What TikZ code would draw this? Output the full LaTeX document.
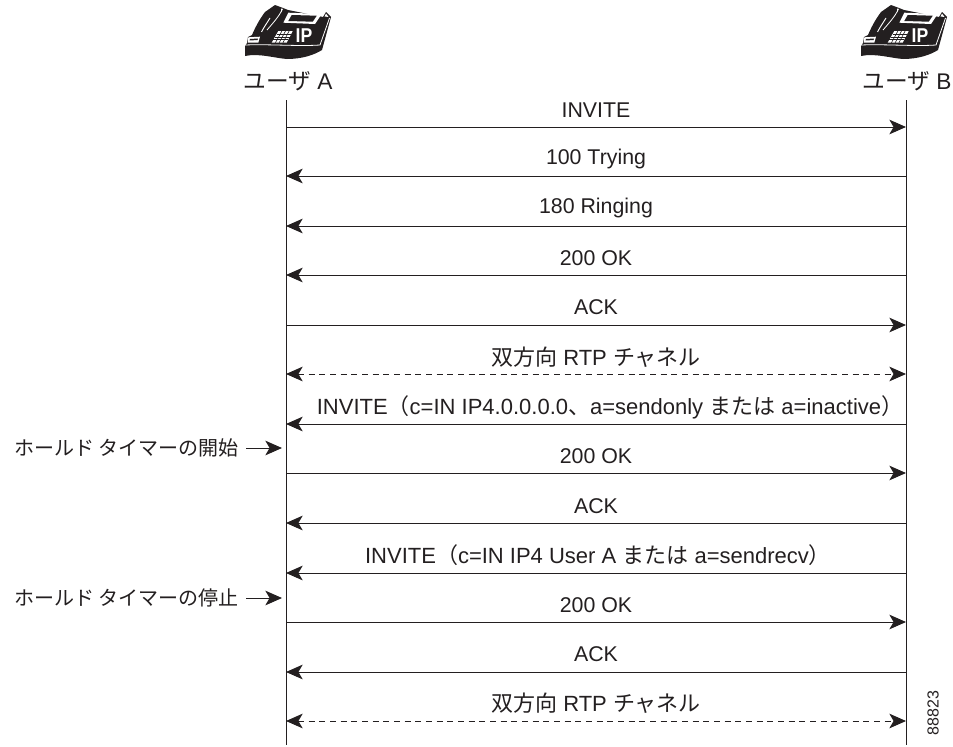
\documentclass[tikz,border=0pt]{standalone}
\usepackage{fontspec}
\setmainfont{Liberation Sans}
\newfontfamily\cjk{Noto Sans CJK JP}
\usetikzlibrary{arrows.meta}
\definecolor{ink}{RGB}{35,31,32}
\tikzset{
  x=0.75pt,y=-0.75pt,
  life/.style={draw=ink,line width=0.75pt},
  msg/.style={draw=ink,line width=0.75pt,-{Stealth[length=12.5pt,width=11pt,inset=3.2pt]}},
  rtp/.style={draw=ink,line width=0.75pt,dash pattern=on 4.5pt off 3.5pt,{Stealth[length=12.5pt,width=11pt,inset=3.2pt]}-{Stealth[length=12.5pt,width=11pt,inset=3.2pt]}},
  lbl/.style={inner sep=0pt,text=ink,font=\fontsize{16pt}{18pt}\selectfont},
  widelbl/.style={inner sep=0pt,text=ink,font=\fontsize{16.5pt}{18pt}\selectfont},
  userlbl/.style={inner sep=0pt,text=ink,font=\fontsize{17pt}{19pt}\selectfont},
  holdlbl/.style={inner sep=0pt,text=ink,anchor=west,font=\fontsize{15pt}{18pt}\selectfont},
  pics/phone/.style={code={
    \fill[ink] (1,46) -- (1,56) .. controls (15,53) and (30,58) .. (43,59) .. controls (58,59) and (70,55) .. (78,50) -- (87,17) -- (82,12) -- (79,17) -- (44,10) -- (39,8) -- (31,5) -- (21,12) .. controls (15,20) and (11,28) .. (8,35) -- (4,37) -- (3,43) -- cycle;
    \fill[white] (44.3,12.7) -- (77.7,14) -- (71,24) -- (39.3,22.7) -- cycle;
    \fill[ink] (47.7,15) -- (72.7,15.7) -- (68.7,21.7) -- (44.3,21) -- cycle;
    \draw[white,line width=0.7pt] (26,18) .. controls (23,23) and (20,27) .. (17.5,32);
    \draw[white,line width=0.6pt] (37.5,11) .. controls (35,16) and (30,22) .. (23,30);
    \fill[white] (4.3,37.3) -- (16,36.7) -- (14.3,42.7) -- (3.7,42.7) -- cycle;
    \fill[ink] (6,39) -- (14,38.5) -- (13.6,40) -- (5.6,40.5) -- cycle;
    \draw[white,line width=0.6pt] (1,45) .. controls (25,44) and (55,46.5) .. (76,45) -- (85.5,18);
    \fill[white] (34.3,31) -- (48.7,31) -- (42.7,42.7) -- (27.7,42.7) -- cycle;
    \foreach \i in {1,2,3} \draw[ink,line width=0.45pt] ({34.3-\i*1.65},{31+\i*2.93}) -- ({48.7-\i*1.5},{31+\i*2.93});
    \foreach \i in {1,2,3} \draw[ink,line width=0.45pt] ({34.3+\i*3.6},31) -- ({27.7+\i*3.75},42.7);
    \fill[white] (37,8.5) -- (39,9) -- (37,12.5) -- cycle;
    \fill[white] (82,13.5) -- (84.5,17) -- (80.5,16.5) -- cycle;
    \node[inner sep=0pt,text=white,font=\fontsize{15pt}{15pt}\selectfont\bfseries,xscale=0.88] at (60,36) {IP};
  }}
}
\begin{document}
\begin{tikzpicture}
\useasboundingbox (0,0) rectangle (953,746);
\pic at (244,0) {phone};
\pic at (860,0) {phone};
\node[userlbl] (ua) at (288,81) {{\cjk ユーザ} A};
\node[userlbl] (ub) at (907,81) {{\cjk ユーザ} B};
\coordinate (at) at (286,100); \coordinate (ab) at (286,745);
\coordinate (bt) at (906,100); \coordinate (bb) at (906,745);
\draw[life] (at) -- (ab);
\draw[life] (bt) -- (bb);
\foreach \n/\y in {1/127,2/176,3/226,4/275,5/325,6/374,7/424,8/473,9/523,10/573,11/622,12/672,13/721}{
  \coordinate (a\n) at (286,\y); \coordinate (b\n) at (906,\y);
}
\draw[msg] (a1) -- (b1);
\draw[msg] (b2) -- (a2);
\draw[msg] (b3) -- (a3);
\draw[msg] (b4) -- (a4);
\draw[msg] (a5) -- (b5);
\draw[rtp] (a6) -- (b6);
\draw[msg] (b7) -- (a7);
\draw[msg] (a8) -- (b8);
\draw[msg] (b9) -- (a9);
\draw[msg] (b10) -- (a10);
\draw[msg] (a11) -- (b11);
\draw[msg] (b12) -- (a12);
\draw[rtp] (a13) -- (b13);
\node[lbl] (l1) at (596,110) {INVITE};
\node[lbl] (l2) at (596,159) {100 Trying};
\node[lbl] (l3) at (596,208) {180 Ringing};
\node[lbl] (l4) at (596,258) {200 OK};
\node[lbl] (l5) at (596,307) {ACK};
\node[widelbl] (l6) at (596,357) {{\cjk 双方向} RTP {\cjk チャネル}};
\node[widelbl] (l7) at (610,407) {INVITE{\cjk （}c=IN IP4.0.0.0.0{\cjk 、}a=sendonly {\cjk または} a=inactive{\cjk ）}};
\node[lbl] (l8) at (596,456) {200 OK};
\node[lbl] (l9) at (596,506) {ACK};
\node[widelbl] (l10) at (598,555) {INVITE{\cjk （}c=IN IP4 User A {\cjk または} a=sendrecv{\cjk ）}};
\node[lbl] (l11) at (596,605) {200 OK};
\node[lbl] (l12) at (596,654) {ACK};
\node[widelbl] (l13) at (596,703) {{\cjk 双方向} RTP {\cjk チャネル}};
\node[holdlbl] (h1) at (14,448) {\cjk ホールド タイマーの開始};
\node[holdlbl] (h2) at (14,598) {\cjk ホールド タイマーの停止};
\coordinate (s1) at (246,448); \coordinate (t1) at (282,448);
\coordinate (s2) at (246,598); \coordinate (t2) at (282,598);
\draw[msg] (s1) -- (t1);
\draw[msg] (s2) -- (t2);
\node[inner sep=0pt,rotate=90,text=ink,font=\fontsize{12pt}{14pt}\selectfont] (num) at (933,713) {88823};
\end{tikzpicture}
\end{document}
